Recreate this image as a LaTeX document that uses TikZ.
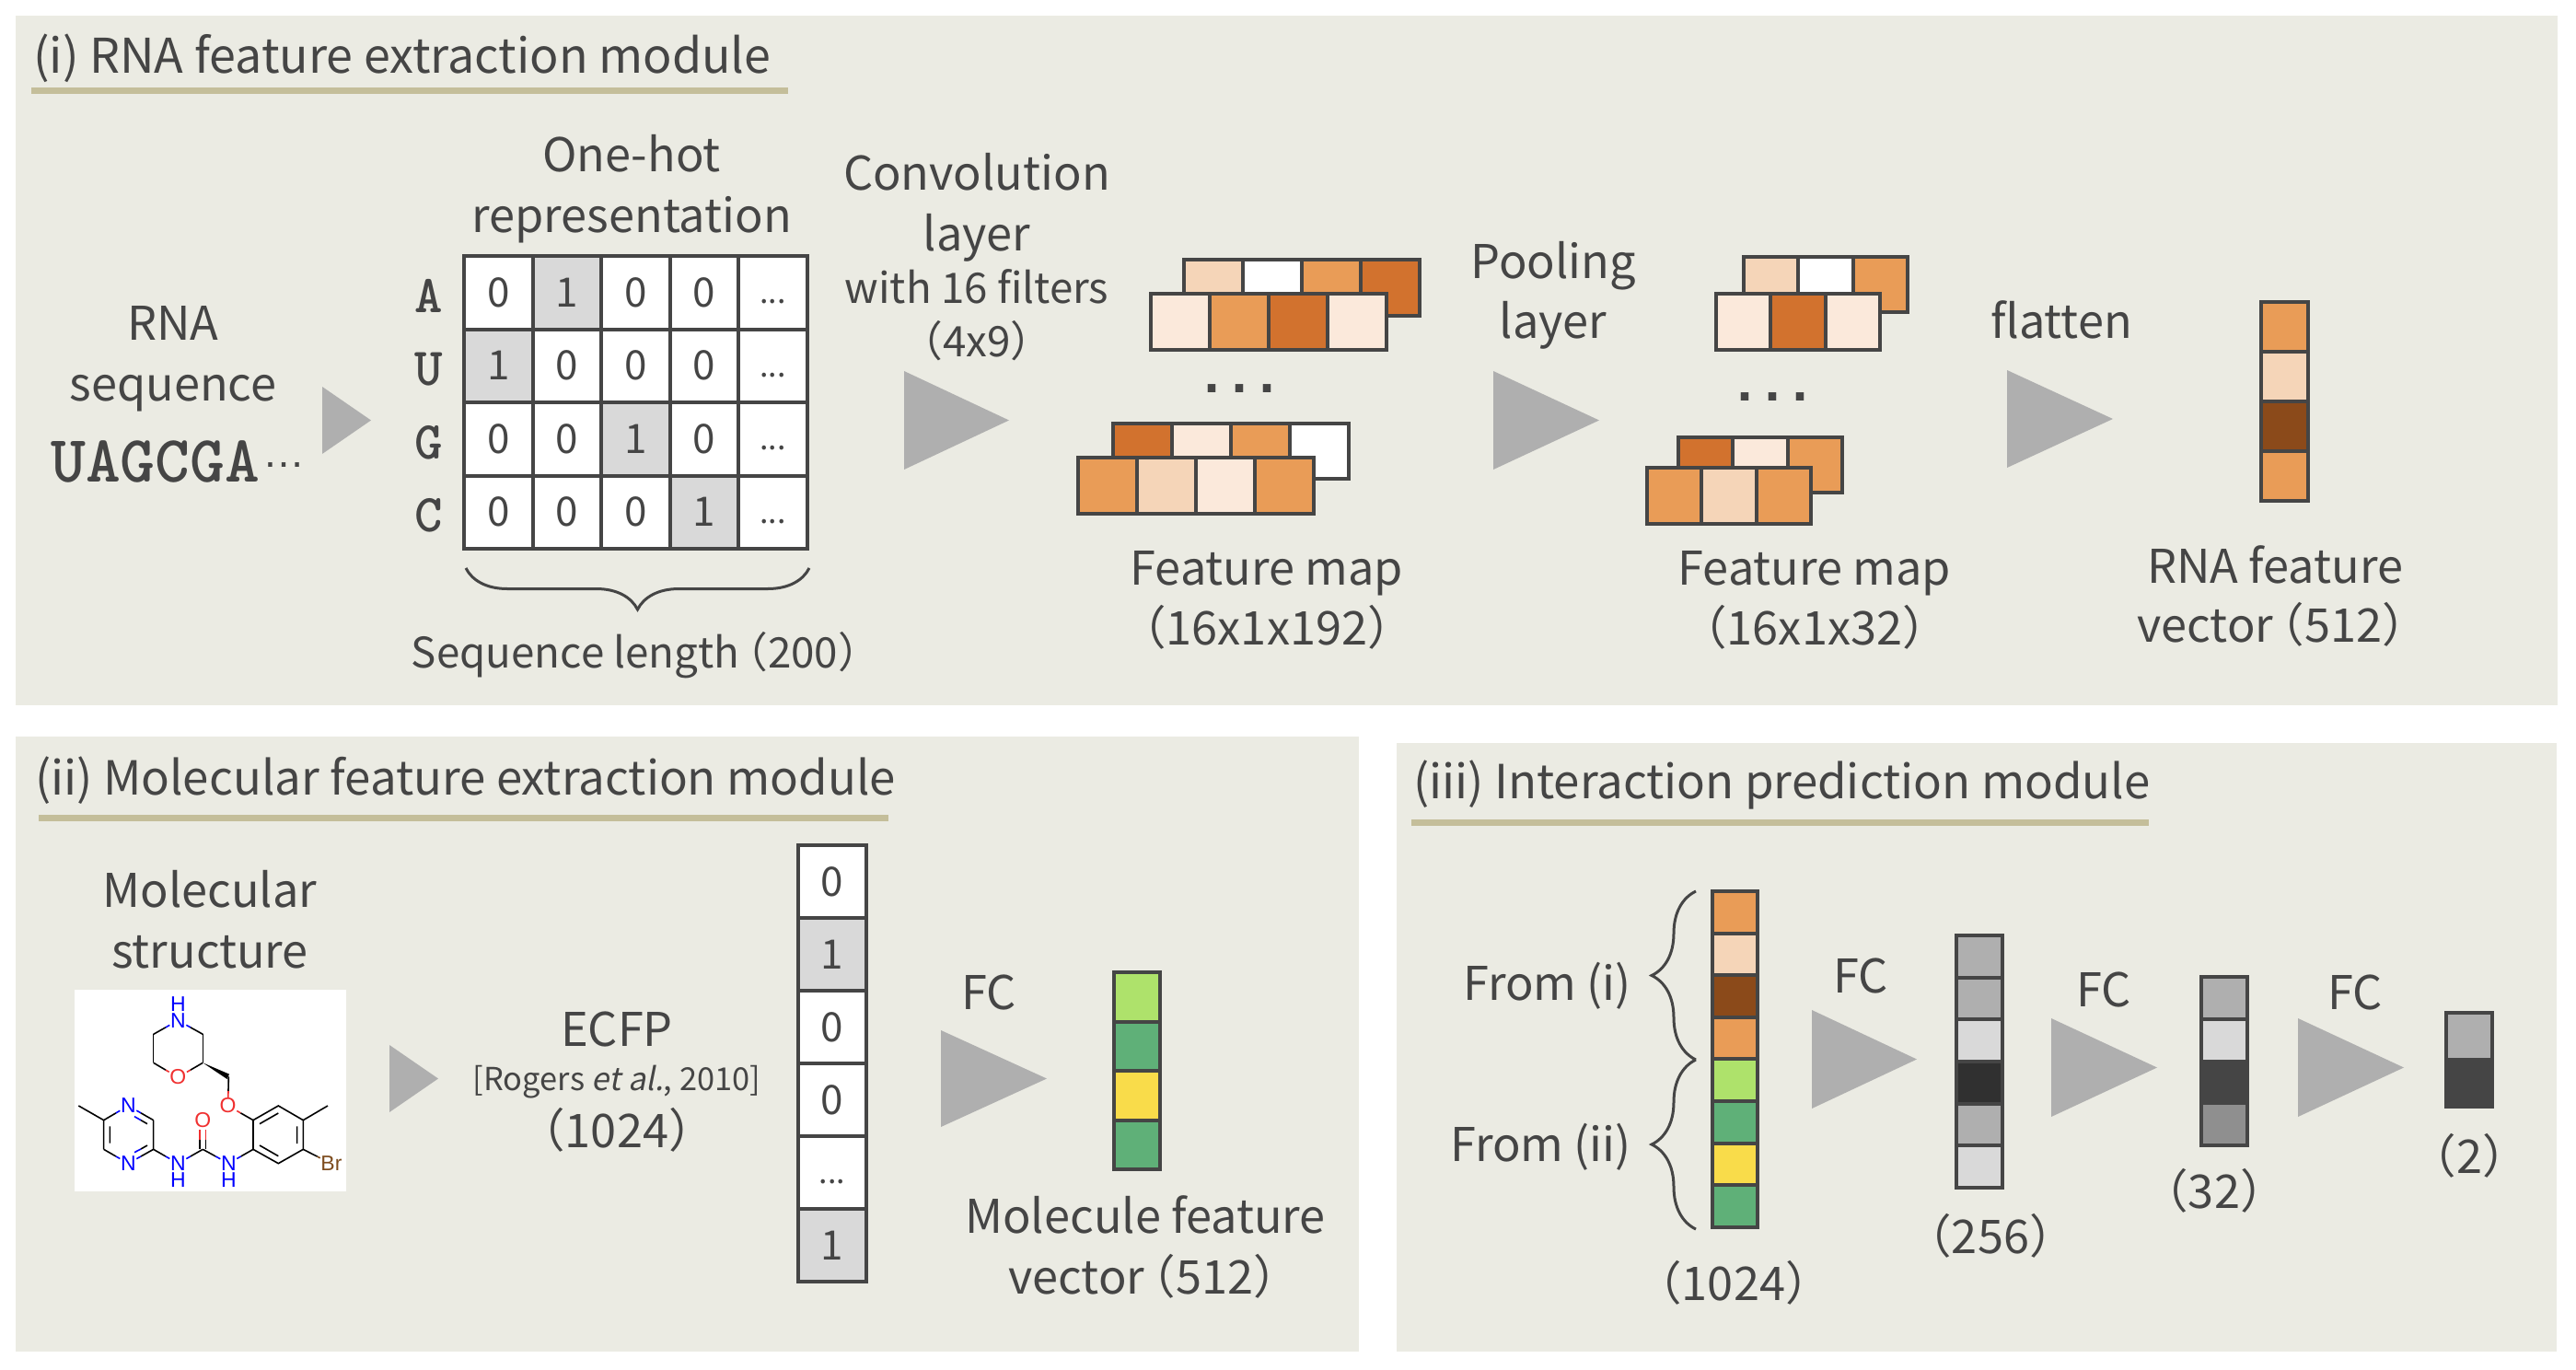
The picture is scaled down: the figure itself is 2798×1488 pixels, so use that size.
\documentclass[tikz,border=0pt]{standalone}
\usepackage{fontspec}
\setmainfont[AutoFakeSlant=0.2]{Noto Sans CJK SC}
\newfontfamily\seqfont{Liberation Mono}
\newfontfamily\atomfont{Liberation Sans}
\usetikzlibrary{calc,decorations.pathreplacing}
\definecolor{panelcol}{RGB}{235,235,227}
\definecolor{rulecol}{RGB}{196,190,154}
\definecolor{inkcol}{RGB}{69,69,69}
\definecolor{gocol}{RGB}{175,175,175}
\definecolor{hotcol}{RGB}{217,217,217}
\definecolor{orA}{RGB}{251,233,219}
\definecolor{orB}{RGB}{245,213,184}
\definecolor{orC}{RGB}{233,156,87}
\definecolor{orD}{RGB}{210,114,46}
\definecolor{orE}{RGB}{139,74,26}
\definecolor{grA}{RGB}{174,226,107}
\definecolor{grB}{RGB}{95,176,120}
\definecolor{grC}{RGB}{249,220,74}
\definecolor{blackcell}{RGB}{48,48,48}
\definecolor{midcell}{RGB}{143,143,143}
\definecolor{atomblue}{RGB}{0,0,255}
\definecolor{atomred}{RGB}{240,48,48}
\definecolor{atombrown}{RGB}{125,76,30}
\begin{document}
\begin{tikzpicture}[
	x=1pt, y=-1pt,
	panel/.style={fill=panelcol},
	title rule/.style={draw=rulecol, line width=7pt},
	title node/.style={font=\fontsize{51}{60}\selectfont, text=inkcol, anchor=base west, inner sep=0pt},
	lab node/.style={font=\fontsize{50.5}{60}\selectfont, text=inkcol, anchor=base, inner sep=0pt, yshift=-1.5pt},
	small node/.style={font=\fontsize{45.7}{54}\selectfont, text=inkcol, anchor=base, inner sep=0pt, yshift=-1.5pt},
	ref node/.style={font=\fontsize{34.4}{40}\selectfont, text=inkcol, anchor=base, inner sep=0pt},
	base node/.style={font=\fontsize{58}{64}\ttfamily\bfseries\selectfont, text=inkcol, inner sep=0pt},
	dots node/.style={font=\fontsize{60}{64}\seqfont\bfseries\selectfont, text=inkcol, inner sep=0pt},
	cell/.style={draw=inkcol, line width=4pt, inner sep=0pt, outer sep=0pt, text=inkcol, font=\fontsize{44}{52}\selectfont},
	go/.style={fill=gocol},
	brace line/.style={draw=inkcol, line width=3pt, decorate},
	bond/.style={line width=1.6pt, black},
	atom/.style={font=\fontsize{23}{27}\atomfont\selectfont, inner sep=0.5pt}
	]
	\newcommand{\drawrow}[6]{% name, left, top, w, h, colours
		\foreach \c [count=\i from 0] in {#6} {
			\node[cell, fill=\c, minimum width=#4pt, minimum height=#5pt] (#1-\i) at ({#2+(\i+.5)*#4},{#3+.5*#5}) {};
		}
	}
	\newcommand{\drawvec}[6]{% name, left, top, w, h, colours
		\foreach \c [count=\i from 0] in {#6} {
			\node[cell, fill=\c, minimum width=#4pt, minimum height=#5pt] (#1-\i) at ({#2+.5*#4},{#3+(\i+.5)*#5}) {};
		}
	}
	\newcommand{\drawgo}[4]{ % left, right, top, bottom
		\fill[go] (#1,#3) -- (#2,{(#3+#4)/2}) -- (#1,#4) -- cycle;
	}
	\newcommand{\halfbond}[3]{
		\draw[bond] (#1) -- ($(#1)!.5!(#2)$);
		\draw[bond,#3] ($(#1)!.5!(#2)$) -- (#2);
	}
	\newcommand{\celldots}{\fontsize{34}{40}\selectfont\vphantom{0}...}
	\newcommand{\lp}{\kern-.33em（}
	\newcommand{\rp}{）\kern-.5em}
	\useasboundingbox (0,0) rectangle (2798,1488);
	\fill[white] (0,0) rectangle (2798,1488);
	\fill[panel] (17,17) rectangle (2778,766);
	\fill[panel] (17,800) rectangle (1476,1468);
	\fill[panel] (1517,807) rectangle (2777,1468);
	
	% (i) RNA module
	\node[title node, font=\fontsize{52}{60}\selectfont] (titlei) at (36,79) {(i) RNA feature extraction module};
	\draw[title rule] (34,98) -- (856,98);
	\node[lab node] (rnaa) at (188,368) {RNA};
	\node[lab node] (rnab) at (188,434) {sequence};
	\node[font=\fontsize{72}{78}\ttfamily\bfseries\selectfont, text=inkcol, anchor=base west, inner sep=0pt] (rnac) at (55,523) {UAGCGA};
	\node[font=\fontsize{46}{50}\atomfont\selectfont, text=inkcol, anchor=base west, inner sep=0pt] (rnad) at (285,507) {…};
	\drawgo{350}{403}{420}{493}
	
	\node[lab node] (hota) at (686,185) {One-hot};
	\node[lab node] (hotb) at (686,251) {representation};
	\foreach \base/\hot [count=\r from 0] in {A/1,U/0,G/2,C/3} {
		\node[base node] (base\base) at (466,{282+(\r+.5)*79.5}) {\base};
		\foreach \k in {0,1,2,3} {
			\ifnum\k=\hot
				\node[cell, fill=hotcol, minimum width=74.6pt, minimum height=79.5pt] (m\r-\k) at ({504+(\k+.5)*74.6},{278+(\r+.5)*79.5}) {1};
			\else
				\node[cell, fill=white, minimum width=74.6pt, minimum height=79.5pt] (m\r-\k) at ({504+(\k+.5)*74.6},{278+(\r+.5)*79.5}) {0};
			\fi
		}
		\node[cell, fill=white, minimum width=74.6pt, minimum height=79.5pt] (m\r-4) at ({504+4.5*74.6},{278+(\r+.5)*79.5}) {\celldots};
	}
	\draw[brace line, decoration={brace, mirror, amplitude=45pt}] (506,617) -- (879,617);
	\node[small node] (lena) at (690,724) {Sequence length\lp 200\rp};
	
	\drawgo{982}{1096}{403}{510}
	\node[lab node] (cona) at (1061,205) {Convolution};
	\node[lab node] (conb) at (1061,271) {layer};
	\node[small node] (conc) at (1061,328) {with 16 filters};
	\node[small node] (cond) at (1061,386) {（4x9）};
	
	\drawrow{fa}{1286}{282}{64}{61}{orB,white,orC,orD}
	\drawrow{fb}{1250}{319}{64}{61}{orA,orC,orD,orA}
	\node[dots node] (dotsa) at (1346,422) {.\kern-6pt.\kern-6pt.};
	\drawrow{fc}{1209}{460}{64}{60}{orD,orA,orC,white}
	\drawrow{fd}{1171}{497}{64}{61}{orC,orB,orA,orC}
	\node[lab node] (fma) at (1376,634) {Feature map};
	\node[lab node] (fmb) at (1376,699) {（16x1x192）};
	
	\drawgo{1622}{1737}{403}{510}
	\node[lab node] (poola) at (1687,301) {Pooling};
	\node[lab node] (poolb) at (1687,366) {layer};
	
	\drawrow{ga}{1894}{279}{59.3}{60}{orB,white,orC}
	\drawrow{gb}{1864}{319}{59.3}{61}{orA,orD,orA}
	\node[dots node] (dotsb) at (1925,431) {.\kern-6pt.\kern-6pt.};
	\drawrow{gc}{1823}{475}{59.3}{60}{orD,orA,orC}
	\drawrow{gd}{1789}{508}{59.3}{61}{orC,orB,orC}
	\node[lab node] (fmc) at (1971,634) {Feature map};
	\node[lab node] (fmd) at (1971,699) {（16x1x32）};
	
	\drawgo{2180}{2295}{402}{508}
	\node[lab node] (flat) at (2239,366) {flatten};
	\drawvec{rv}{2456}{328}{51}{54}{orC,orB,orE,orC}
	\node[lab node] (rvla) at (2471,632) {RNA feature};
	\node[lab node] (rvlb) at (2467,696) {vector\lp 512\rp};
	
	% (ii) molecule module
	\node[title node] (titleii) at (38,863) {(ii) Molecular feature extraction module};
	\draw[title rule] (42,888) -- (965,888);
	\node[lab node] (mola) at (228,984) {Molecular};
	\node[lab node] (molb) at (228,1050) {structure};
	\fill[white] (81,1075) rectangle (376,1294);
	\begin{scope}[shift={(60,1060)}, scale=0.33333]
		\node[atom, text=atomblue] (Nr) at (400,145) {N};
		\node[atom, text=atomblue] (Hr) at (400,92) {H};
		\node[atom, text=atomred] (Or) at (400,330) {O};
		\node[atom, text=atomred] (Oe) at (563,423) {O};
		\node[atom, text=atomred] (Oc) at (481,470) {O};
		\node[atom, text=atomblue] (Na) at (238,423) {N};
		\node[atom, text=atomblue] (Nb) at (238,611) {N};
		\node[atom, text=atomblue] (Nc) at (400,611) {N};
		\node[atom, text=atomblue] (Hc) at (400,665) {H};
		\node[atom, text=atomblue] (Nd) at (565,611) {N};
		\node[atom, text=atomblue] (Hd) at (565,665) {H};
		\node[atom, text=atombrown] (Br) at (900,612) {Br};
		\coordinate (r1) at (481,190);
		\coordinate (r2) at (481,283);
		\coordinate (r3) at (320,283);
		\coordinate (r4) at (320,190);
		\coordinate (ch) at (565,328);
		\coordinate (a1) at (645,470);
		\coordinate (a2) at (727,423);
		\coordinate (a3) at (808,470);
		\coordinate (a4) at (808,565);
		\coordinate (a5) at (727,611);
		\coordinate (a6) at (645,565);
		\coordinate (me1) at (888,423);
		\coordinate (co) at (481,565);
		\coordinate (p1) at (320,565);
		\coordinate (p2) at (320,470);
		\coordinate (p3) at (158,470);
		\coordinate (p4) at (158,565);
		\coordinate (me2) at (76,423);
		\halfbond{r1}{Nr}{atomblue}
		\halfbond{r4}{Nr}{atomblue}
		\halfbond{r2}{Or}{atomred}
		\halfbond{r3}{Or}{atomred}
		\draw[bond] (r1) -- (r2) (r3) -- (r4);
		\fill[black] (r2) -- (567,320) -- (560,336) -- cycle;
		\halfbond{ch}{Oe}{atomred}
		\halfbond{a1}{Oe}{atomred}
		\draw[bond] (a1) -- (a2) -- (a3) -- (a4) -- (a5) -- (a6) -- (a1);
		\draw[bond] (666,482) -- (727,447) (788,490) -- (788,546) (727,587) -- (666,552);
		\draw[bond] (a3) -- (me1);
		\halfbond{a4}{Br}{atombrown}
		\halfbond{a6}{Nd}{atomblue}
		\halfbond{co}{Nd}{atomblue}
		\halfbond{co}{Nc}{atomblue}
		\halfbond{p1}{Nc}{atomblue}
		\draw[bond] (471,565) -- (471,533) (491,565) -- (491,533);
		\draw[bond, atomred] (471,533) -- (471,500) (491,533) -- (491,500);
		\draw[bond] (p1) -- (p2) (p3) -- (p4) (p3) -- (me2);
		\halfbond{p2}{Na}{atomblue}
		\halfbond{p3}{Na}{atomblue}
		\halfbond{p1}{Nb}{atomblue}
		\halfbond{p4}{Nb}{atomblue}
		\draw[bond] (300,482) -- (279,470) (178,490) -- (178,545) (300,552) -- (279,564);
		\draw[bond, atomblue] (279,470) -- (258,458) (279,564) -- (258,575);
	\end{scope}
	\drawgo{423}{476}{1135}{1208}
	\node[lab node] (ecfa) at (670,1135) {ECFP};
	\node[ref node] (ecfb) at (670,1184) {[Rogers \textit{et al.}, 2010]};
	\node[lab node] (ecfc) at (670,1245) {（1024）};
	\foreach \c/\t [count=\i from 0] in {white/0,hotcol/1,white/0,white/0,white/\celldots,hotcol/1} {
		\node[cell, fill=\c, minimum width=74pt, minimum height=79pt] (ec-\i) at (904,{918+(\i+.5)*79}) {\t};
	}
	\drawgo{1022}{1137}{1119}{1224}
	\node[lab node] (fca) at (1074,1095) {FC};
	\drawvec{mv}{1210}{1056}{50}{53.5}{grA,grB,grC,grB}
	\node[lab node] (mvla) at (1244,1338) {Molecule feature};
	\node[lab node] (mvlb) at (1241,1404) {vector\lp 512\rp};
	
	% (iii) prediction module
	\node[title node] (titleiii) at (1535,867) {(iii) Interaction prediction module};
	\draw[title rule] (1533,893) -- (2334,893);
	\draw[brace line, decoration={brace, amplitude=48pt}] (1842,1151) -- (1842,968);
	\draw[brace line, decoration={brace, amplitude=48pt}] (1842,1335) -- (1842,1151);
	\node[lab node, anchor=base east] (fromi) at (1772,1085) {From (i)};
	\node[lab node, anchor=base east] (fromii) at (1772,1260) {From (ii)};
	\drawvec{ba}{1860}{968}{49}{45.6}{orC,orB,orE,orC,grA,grB,grC,grB}
	\node[lab node] (bala) at (1883,1411) {（1024）};
	\drawgo{1968}{2082}{1097}{1204}
	\node[lab node] (fcb) at (2021,1077) {FC};
	\drawvec{bb}{2125}{1016}{50}{45.67}{gocol,gocol,hotcol,blackcell,gocol,hotcol}
	\node[lab node] (bbla) at (2162,1360) {（256）};
	\drawgo{2228}{2343}{1106}{1213}
	\node[lab node] (fcc) at (2285,1092) {FC};
	\drawvec{bc}{2391}{1061}{50}{45.75}{gocol,hotcol,inkcol,midcell}
	\node[lab node] (bcla) at (2405,1311) {（32）};
	\drawgo{2496}{2611}{1106}{1213}
	\node[lab node] (fcd) at (2558,1095) {FC};
	\drawvec{bd}{2657}{1100}{50}{51}{gocol,inkcol}
	\node[lab node] (bdla) at (2682,1273) {（2）};
\end{tikzpicture}
\end{document}
